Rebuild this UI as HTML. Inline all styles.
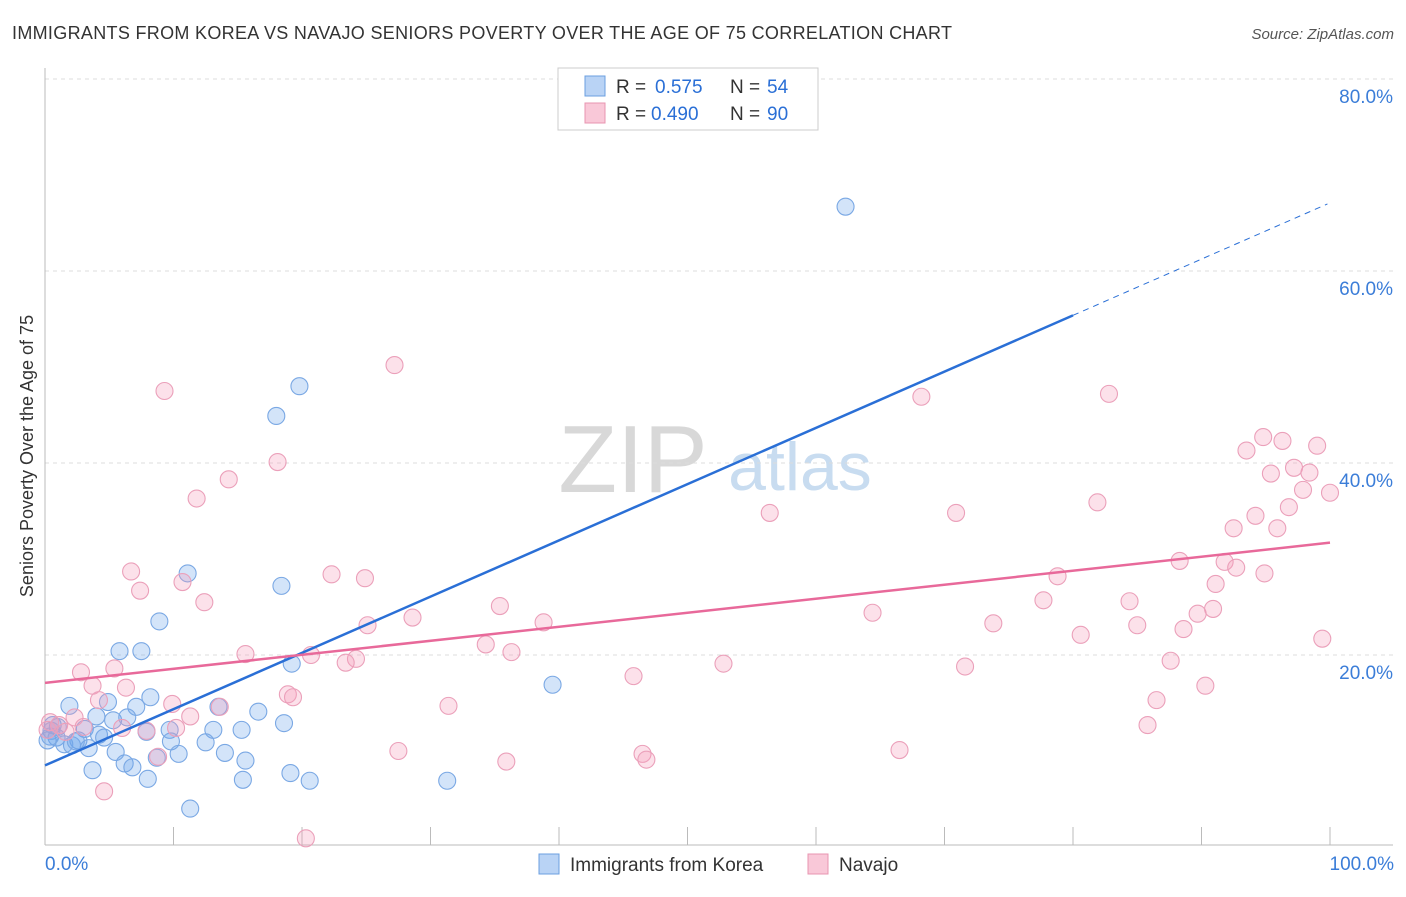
<!DOCTYPE html>
<html><head><meta charset="utf-8"><style>
body{margin:0;background:#fff;font-family:"Liberation Sans",sans-serif}
svg text{font-family:"Liberation Sans",sans-serif}
</style></head><body>
<svg width="1406" height="892" id="chart">
<text x="12" y="39" font-size="18" fill="#333" textLength="940">IMMIGRANTS FROM KOREA VS NAVAJO SENIORS POVERTY OVER THE AGE OF 75 CORRELATION CHART</text>
<text x="1394" y="39" font-size="15" fill="#555" font-style="italic" text-anchor="end">Source: ZipAtlas.com</text>
<text x="0" y="0" transform="translate(33,456) rotate(-90)" font-size="18" fill="#333" text-anchor="middle">Seniors Poverty Over the Age of 75</text>
<g><text x="633" y="492" font-size="96" fill="#d8d8d8" font-family="Liberation Serif" text-anchor="middle">ZIP</text><text x="800" y="490" font-size="68" fill="#c8dcf0" text-anchor="middle">atlas</text></g>
<g id="grid"></g><g id="marks"></g>
<g>
<rect x="558" y="68" width="260" height="62" fill="#fff" stroke="#ccc"/>
<rect x="585" y="76" width="20" height="20" fill="#b9d3f5" stroke="#6b9fe0"/>
<rect x="585" y="103" width="20" height="20" fill="#f9c8d8" stroke="#e895b0"/>
<text x="616" y="93" font-size="19" fill="#333">R =</text><text x="655" y="93" font-size="19" fill="#2a6fd6">0.575</text>
<text x="730" y="93" font-size="19" fill="#333">N =</text><text x="767" y="93" font-size="19" fill="#2a6fd6">54</text>
<text x="616" y="120" font-size="19" fill="#333">R =</text><text x="651" y="120" font-size="19" fill="#2a6fd6">0.490</text>
<text x="730" y="120" font-size="19" fill="#333">N =</text><text x="767" y="120" font-size="19" fill="#2a6fd6">90</text>
</g>
<g>
<rect x="539" y="854" width="20" height="20" fill="#b9d3f5" stroke="#6b9fe0"/>
<text x="570" y="871" font-size="19" fill="#333">Immigrants from Korea</text>
<rect x="808" y="854" width="20" height="20" fill="#f9c8d8" stroke="#e895b0"/>
<text x="839" y="871" font-size="19" fill="#333">Navajo</text>
</g>
</svg>
<script>
const yTicks=[20,40,60,80];
const yTickLabels=["20.0%","40.0%","60.0%","80.0%"];
const xTickLabels=["0.0%","100.0%"];
const blueX=[62.3,19.8,18.0,11.1,18.4,8.9,5.8,7.5,19.2,39.5,1.9,4.9,8.2,7.1,13.5,16.6,4.0,5.3,6.4,0.6,3.1,9.7,13.1,15.3,18.6,7.9,4.2,4.6,2.6,0.9,1.5,2.1,3.4,5.5,9.8,12.5,14.0,10.4,8.7,6.2,6.8,15.6,3.7,8.0,15.4,19.1,20.6,31.3,11.3,0.5,0.2,1.0,0.4,2.4];
const blueY=[66.7,48.0,44.9,28.5,27.2,23.5,20.4,20.4,19.1,16.9,14.7,15.1,15.6,14.6,14.6,14.1,13.6,13.2,13.5,12.7,12.3,12.2,12.2,12.2,12.9,12.0,11.7,11.4,11.1,11.4,10.7,10.6,10.3,9.9,11.0,10.9,9.8,9.7,9.3,8.7,8.3,9.0,8.0,7.1,7.0,7.7,6.9,6.9,4.0,12.1,11.1,12.5,11.5,11.0];
const pinkX=[27.2,9.3,68.2,82.8,18.1,94.8,93.5,96.3,99.0,14.3,95.4,97.2,98.4,97.9,100,11.8,81.9,56.4,70.9,94.2,96.8,92.5,95.9,91.8,88.3,92.7,94.9,6.7,22.3,24.9,78.8,7.4,10.7,91.1,12.4,77.7,84.4,35.4,89.7,90.9,64.4,28.6,25.1,38.8,73.8,85.0,88.6,80.6,99.4,34.3,36.3,15.6,20.7,24.2,23.4,87.6,52.8,71.6,2.8,5.4,45.8,3.7,6.3,90.3,18.9,19.3,4.2,86.5,9.9,31.4,13.6,11.3,2.3,1.1,6.0,10.2,7.9,3.0,85.8,0.4,27.5,46.5,66.5,8.8,46.8,35.9,4.6,20.3,0.2,1.6];
const pinkY=[50.2,47.5,46.9,47.2,40.1,42.7,41.3,42.3,41.8,38.3,38.9,39.5,39.0,37.2,36.9,36.3,35.9,34.8,34.8,34.5,35.4,33.2,33.2,29.7,29.8,29.1,28.5,28.7,28.4,28.0,28.2,26.7,27.6,27.4,25.5,25.7,25.6,25.1,24.3,24.8,24.4,23.9,23.1,23.4,23.3,23.1,22.7,22.1,21.7,21.1,20.3,20.1,20.0,19.6,19.2,19.4,19.1,18.8,18.2,18.6,17.8,16.8,16.6,16.8,15.9,15.6,15.3,15.3,14.9,14.7,14.6,13.6,13.5,12.7,12.4,12.4,12.1,12.5,12.7,13.0,10.0,9.7,10.1,9.4,9.1,8.9,5.8,0.9,12.2,12.0];
const blueTrend=[8.5,0.586], pinkTrend=[17.1,0.146];
const NS="http://www.w3.org/2000/svg";
const X=v=>45+v*12.85, Y=v=>847-v*9.6;
const grid=document.getElementById('grid'), marks=document.getElementById('marks');
function mk(tag,attrs,parent){const e=document.createElementNS(NS,tag);for(const k in attrs)e.setAttribute(k,attrs[k]);parent.appendChild(e);return e;}
yTicks.forEach((t,i)=>{
 const g=mk('line',{x1:45,x2:1393,y1:Y(t),y2:Y(t),stroke:'#ddd','stroke-dasharray':'4,4'},grid);
 
 
 const l=mk('text',{x:1393,y:Y(t)+24,'font-size':19,fill:'#3b7dd8','text-anchor':'end'},grid);l.textContent=yTickLabels[i];
 
 
});
mk('line',{x1:45,x2:1393,y1:845,y2:845,stroke:'#bbb'},grid);
mk('line',{x1:45,x2:45,y1:68,y2:845,stroke:'#bbb'},grid);
for(let i=0;i<=10;i++){const t=mk('line',{x1:X(i*10),x2:X(i*10),y1:827,y2:845,stroke:'#bbb'},grid);
 
 }
[[0,X(0),'start'],[1,X(100)+64,'end']].forEach(([i,x,a])=>{const l=mk('text',{x:x,y:870,'font-size':19,fill:'#3b7dd8','text-anchor':a},grid);l.textContent=xTickLabels[i];
 
 });
function pts(xs,ys,fill,stroke,name){xs.forEach((x,i)=>{const c=mk('circle',{cx:X(x),cy:Y(ys[i]),r:8.5,fill:fill,stroke:stroke,'stroke-width':1.1},marks);
 
 });}
pts(blueX,blueY,'rgba(110,165,235,0.3)','#7aa8e4','korea-point');
pts(pinkX,pinkY,'rgba(245,155,185,0.3)','#eba0ba','navajo-point');
const bl=mk('line',{x1:X(0),y1:Y(blueTrend[0]),x2:X(80),y2:Y(blueTrend[0]+blueTrend[1]*80),stroke:'#2a6fd6','stroke-width':2.5},marks);


const bd=mk('line',{x1:X(80),y1:Y(blueTrend[0]+blueTrend[1]*80),x2:X(99.8),y2:Y(blueTrend[0]+blueTrend[1]*99.8),stroke:'#2a6fd6','stroke-width':1,'stroke-dasharray':'6,5'},marks);


const pl=mk('line',{x1:X(0),y1:Y(pinkTrend[0]),x2:X(100),y2:Y(pinkTrend[0]+pinkTrend[1]*100),stroke:'#e8699a','stroke-width':2.5},marks);


</script>
</body></html>
